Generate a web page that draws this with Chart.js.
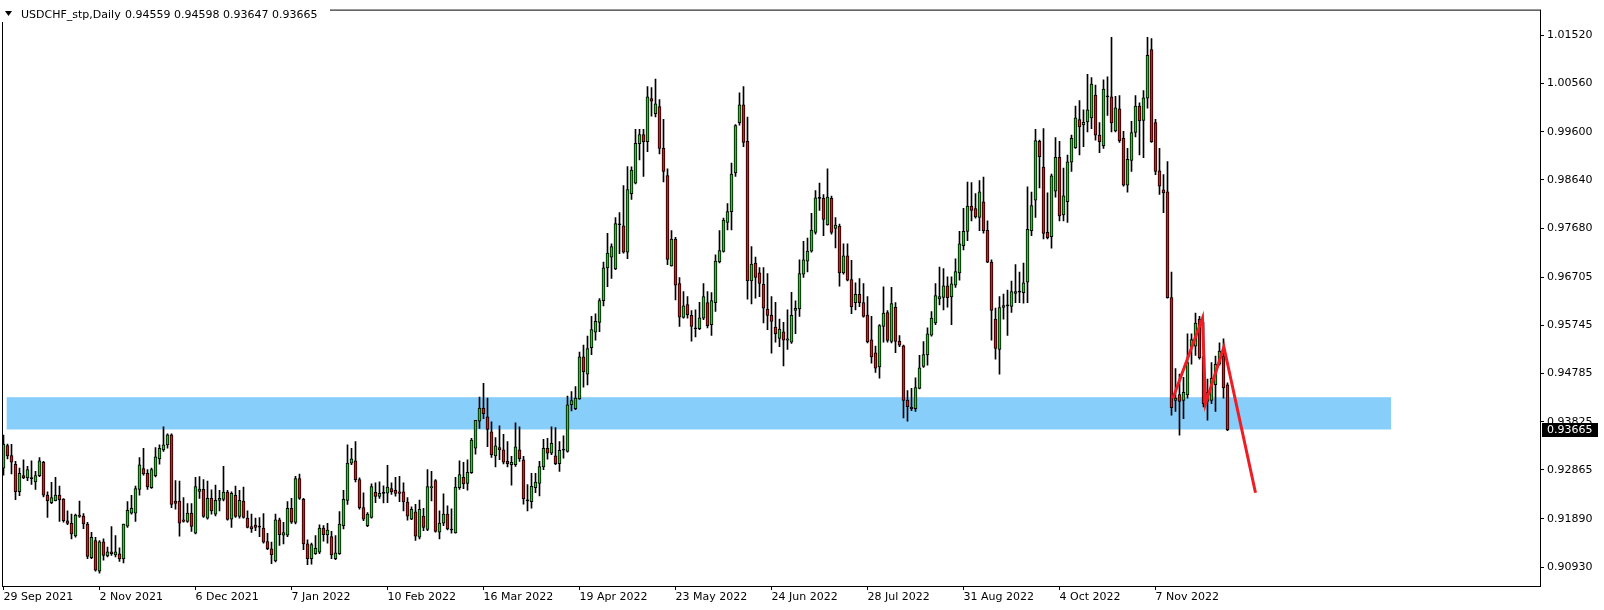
<!DOCTYPE html>
<html>
<head>
<meta charset="utf-8">
<script src="https://cdn.jsdelivr.net/npm/chart.js@4.4.1/dist/chart.umd.min.js"></script>
<style>
html, body { margin: 0; padding: 0; background: #ffffff; }
</style>
</head>
<body>
<canvas id="grafica" width="1604" height="610"></canvas>
<script>
// Velas diarias USDCHF, una por dia laborable desde el 29 Sep 2021
const opens = [
0.92903,0.93350,0.93153,0.92976,0.92431,0.92752,0.92707,0.92693,0.92628,0.92752,
0.93015,0.92365,0.92214,0.92254,0.92365,0.92287,0.91853,0.91801,0.91551,0.91965,
0.91945,0.91788,0.91118,0.91460,0.90849,0.91433,0.91151,0.91236,0.91171,0.91197,
0.91092,0.91748,0.92004,0.92004,0.92477,0.92890,0.92798,0.92510,0.92752,0.93087,
0.93264,0.93363,0.93566,0.92247,0.92247,0.91873,0.91840,0.92004,0.91604,0.92437,
0.92477,0.91906,0.92299,0.91984,0.92260,0.92280,0.92424,0.91886,0.92359,0.91938,
0.92247,0.91906,0.91735,0.91768,0.91728,0.91709,0.91440,0.91295,0.91053,0.91873,
0.91565,0.91565,0.92103,0.91820,0.92693,0.92280,0.91394,0.91098,0.91197,0.91230,
0.91709,0.91571,0.91538,0.91098,0.91197,0.91755,0.92260,0.93002,0.93048,0.92674,
0.92116,0.91755,0.91919,0.92418,0.92339,0.92398,0.92404,0.92496,0.92457,0.92431,
0.92431,0.92227,0.91886,0.92031,0.91525,0.91945,0.91683,0.92510,0.92654,0.91624,
0.91807,0.91985,0.91670,0.91611,0.92510,0.92720,0.92595,0.92812,0.93297,0.93836,
0.94098,0.93921,0.93626,0.93147,0.93311,0.93265,0.93035,0.92970,0.92970,0.93265,
0.93068,0.92248,0.92235,0.92510,0.92596,0.92924,0.93298,0.93199,0.93147,0.92989,
0.93258,0.93232,0.94164,0.94085,0.94282,0.95116,0.94774,0.95300,0.95608,0.95805,
0.96238,0.96888,0.97104,0.96868,0.97748,0.97728,0.97203,0.98365,0.98575,0.99362,
0.99546,0.99402,1.00261,0.99959,1.00104,0.99270,0.98726,0.96927,0.97465,0.96579,
0.95903,0.96159,0.95943,0.95674,0.95680,0.95890,0.96199,0.95759,0.96199,0.97006,
0.97216,0.97794,0.98010,0.98778,0.99782,1.00137,0.99408,0.96632,0.96986,0.96790,
0.96560,0.96067,0.95943,0.95712,0.95483,0.95614,0.95450,0.95410,0.96040,0.96073,
0.96762,0.97025,0.97222,0.97596,0.98272,0.98272,0.97747,0.98272,0.97675,0.97721,
0.96789,0.97130,0.96657,0.96198,0.96362,0.96198,0.95948,0.95456,0.95200,0.94918,
0.95725,0.96001,0.95423,0.96106,0.95430,0.95338,0.94255,0.94111,0.94085,0.94491,
0.94925,0.95154,0.95548,0.95791,0.96270,0.96303,0.96533,0.96310,0.96546,0.96789,
0.97334,0.97616,0.98121,0.98069,0.97892,0.98207,0.97636,0.97005,0.95870,0.95266,
0.96100,0.96133,0.96120,0.96382,0.96408,0.96395,0.96605,0.97629,0.98239,0.99408,
0.98896,0.97596,0.97511,0.98416,0.99092,0.97944,0.98207,0.98994,0.99283,0.99841,
0.99736,0.99795,0.99874,1.00333,0.99532,0.99322,1.00294,1.00294,0.99618,1.00057,
0.99467,0.98535,0.99027,0.99585,1.00110,0.99828,1.00267,1.01239,0.99782,0.98823,
0.98443,0.98403,0.96297,0.94249,0.94367,0.94249,0.94361,0.95319,0.95332,0.95870,
0.95122,0.94229,0.94249,0.94564,0.94971,0.95135,0.94559
];
const highs = [
0.93560,0.93382,0.93376,0.93035,0.92903,0.93067,0.92936,0.93048,0.92838,0.93113,
0.93035,0.92431,0.92621,0.92720,0.92542,0.92293,0.92050,0.91985,0.91985,0.92247,
0.91998,0.91821,0.91624,0.91525,0.91460,0.91492,0.91328,0.91735,0.91558,0.91315,
0.91788,0.92234,0.92359,0.92542,0.93113,0.93297,0.92871,0.92903,0.93310,0.93363,
0.93724,0.93586,0.93586,0.92654,0.92641,0.92313,0.92195,0.92195,0.92720,0.92733,
0.92674,0.92641,0.92470,0.92562,0.92457,0.92936,0.92457,0.92431,0.92542,0.92457,
0.92523,0.92050,0.91984,0.91906,0.91919,0.91998,0.91604,0.91427,0.91984,0.91906,
0.91820,0.92234,0.92299,0.92739,0.92785,0.92299,0.91473,0.91407,0.91558,0.91774,
0.91755,0.91801,0.91643,0.91558,0.92037,0.92457,0.93363,0.93297,0.93428,0.92707,
0.92411,0.92017,0.92588,0.92608,0.92628,0.92549,0.92956,0.92608,0.92720,0.92739,
0.92608,0.92313,0.92129,0.92181,0.92267,0.92103,0.92871,0.92838,0.92674,0.92050,
0.92392,0.92149,0.92090,0.92720,0.93048,0.93015,0.93067,0.93494,0.93855,0.94315,
0.94591,0.94295,0.93823,0.93508,0.93744,0.93573,0.93429,0.93134,0.93803,0.93724,
0.93134,0.92576,0.92799,0.92799,0.93035,0.93475,0.93495,0.93724,0.93711,0.93429,
0.93547,0.94335,0.94427,0.94525,0.95214,0.95352,0.95529,0.95923,0.95976,0.96277,
0.97006,0.97577,0.97367,0.97892,0.97991,0.98529,0.98909,0.98903,0.99651,0.99651,
0.99651,1.00498,1.00478,1.00648,1.00242,0.99848,0.98863,0.97630,0.97498,0.96698,
0.96415,0.96317,0.96041,0.96054,0.96205,0.96579,0.96415,0.96396,0.97150,0.97630,
0.97879,0.98168,0.98975,0.99743,1.00373,1.00498,0.99894,0.97315,0.97104,0.96894,
0.96894,0.96776,0.96317,0.96204,0.95870,0.95804,0.96054,0.96401,0.96231,0.97051,
0.97419,0.97484,0.97976,0.98429,0.98580,0.98351,0.98862,0.98318,0.97891,0.97760,
0.97366,0.97366,0.97038,0.96592,0.96677,0.96579,0.96316,0.95922,0.95332,0.95758,
0.96513,0.96040,0.96500,0.96198,0.95542,0.95351,0.94446,0.94492,0.94702,0.95148,
0.95423,0.95693,0.96021,0.96579,0.96907,0.96874,0.96710,0.96710,0.97071,0.97615,
0.98075,0.98600,0.98587,0.98371,0.98627,0.98699,0.97826,0.97051,0.96087,0.96316,
0.96369,0.96448,0.96625,0.96953,0.96808,0.96986,0.98502,0.98397,0.99650,0.99434,
0.99663,0.98384,0.98758,0.99486,0.99408,0.98876,0.99138,0.99532,1.00110,1.00221,
1.00038,1.00746,1.00681,1.00530,0.99782,1.00635,1.00694,1.01481,1.00307,1.00320,
0.99611,0.99270,0.99808,1.00320,1.00175,1.00418,1.01481,1.01455,0.99847,0.99270,
0.98745,0.99007,0.96808,0.94886,0.94774,0.94709,0.95575,0.95575,0.95988,0.95923,
0.95804,0.94676,0.95004,0.95135,0.95398,0.95476,0.94598
];
const lows = [
0.92759,0.93087,0.92785,0.92273,0.92352,0.92693,0.92654,0.92575,0.92477,0.92733,
0.92326,0.91919,0.92195,0.92247,0.91840,0.91827,0.91775,0.91492,0.91525,0.91919,
0.91696,0.91099,0.91099,0.90849,0.90810,0.91066,0.91131,0.91164,0.91131,0.91046,
0.91013,0.91722,0.91985,0.91840,0.92365,0.92759,0.92477,0.92496,0.92726,0.92982,
0.93232,0.93297,0.92116,0.92083,0.91545,0.91827,0.91821,0.91643,0.91591,0.92299,
0.91919,0.91886,0.91984,0.91952,0.92050,0.92247,0.91866,0.91722,0.91919,0.91906,
0.91906,0.91709,0.91623,0.91656,0.91538,0.91407,0.91276,0.91000,0.91033,0.91361,
0.91394,0.91538,0.91801,0.91788,0.92280,0.91276,0.90980,0.90987,0.91184,0.91197,
0.91446,0.91407,0.91098,0.91079,0.91184,0.91689,0.92181,0.92969,0.92628,0.92083,
0.91853,0.91735,0.91906,0.92214,0.92299,0.92208,0.92214,0.92378,0.92345,0.92234,
0.92050,0.91866,0.91873,0.91460,0.91492,0.91656,0.91656,0.92247,0.91624,0.91492,
0.91755,0.91670,0.91604,0.91604,0.92477,0.92490,0.92464,0.92798,0.93179,0.93692,
0.93888,0.93331,0.93114,0.92924,0.93068,0.92983,0.92924,0.92563,0.92937,0.93035,
0.92182,0.92051,0.92103,0.92412,0.92346,0.92871,0.93081,0.93167,0.92970,0.92838,
0.93101,0.93219,0.94039,0.94066,0.94269,0.94512,0.94558,0.95162,0.95451,0.95621,
0.96133,0.96514,0.96678,0.96855,0.97170,0.97183,0.97072,0.98253,0.98561,0.99041,
0.98712,0.99205,0.99913,0.99894,0.99159,0.98601,0.96953,0.96921,0.96251,0.95726,
0.95890,0.95890,0.95431,0.95516,0.95661,0.95857,0.95693,0.95543,0.96022,0.96986,
0.97203,0.97643,0.97643,0.98712,0.99730,0.99303,0.96264,0.96172,0.96284,0.96317,
0.95792,0.95661,0.95190,0.95410,0.95318,0.94938,0.95266,0.95384,0.95581,0.95922,
0.96697,0.96808,0.97202,0.97563,0.98036,0.97530,0.97740,0.97563,0.97287,0.96526,
0.96762,0.96631,0.95975,0.96054,0.96119,0.95909,0.95397,0.94990,0.94807,0.94695,
0.95410,0.95410,0.95397,0.95200,0.95318,0.93901,0.93835,0.94045,0.94032,0.94478,
0.94905,0.94951,0.95528,0.95758,0.96152,0.96053,0.96106,0.95758,0.96500,0.96644,
0.97248,0.97432,0.97826,0.97878,0.97629,0.97583,0.96992,0.95450,0.95069,0.94774,
0.95870,0.95542,0.96001,0.96198,0.96198,0.96185,0.96198,0.97531,0.97892,0.98482,
0.97465,0.97465,0.97281,0.98298,0.97826,0.97826,0.97793,0.98810,0.99270,0.99138,
0.99303,0.99598,0.99663,0.99434,0.99184,0.99270,0.99926,0.99598,0.99598,0.99388,
0.98515,0.98397,0.98810,0.99499,0.99138,0.99086,1.00070,0.99388,0.98745,0.98351,
0.97990,0.96284,0.93954,0.94032,0.93560,0.93888,0.94295,0.94971,0.95148,0.95069,
0.94118,0.93855,0.94183,0.94032,0.94951,0.94295,0.93647
];
const closes = [
0.93382,0.93146,0.93022,0.92431,0.92798,0.92707,0.92871,0.92693,0.92752,0.93048,
0.92365,0.92254,0.92313,0.92365,0.92273,0.91853,0.91801,0.91591,0.91965,0.91939,
0.91788,0.91145,0.91525,0.90869,0.91433,0.91164,0.91236,0.91197,0.91236,0.91092,
0.91788,0.92063,0.92103,0.92496,0.92969,0.92785,0.92529,0.92871,0.93127,0.93297,
0.93363,0.93566,0.92181,0.92201,0.91807,0.91840,0.92004,0.91742,0.92536,0.92483,
0.91938,0.92299,0.92050,0.92260,0.92299,0.92424,0.91879,0.92398,0.91938,0.92260,
0.91919,0.91722,0.91689,0.91722,0.91728,0.91427,0.91295,0.91177,0.91873,0.91578,
0.91617,0.92103,0.91827,0.92693,0.92299,0.91394,0.91098,0.91381,0.91302,0.91709,
0.91578,0.91669,0.91171,0.91217,0.91788,0.92280,0.93002,0.93087,0.92674,0.92116,
0.91886,0.91984,0.92536,0.92339,0.92398,0.92398,0.92523,0.92431,0.92398,0.92398,
0.92227,0.91945,0.92083,0.91545,0.92083,0.91722,0.92536,0.92536,0.91643,0.91807,
0.91985,0.91689,0.91670,0.92523,0.92772,0.92588,0.92818,0.93461,0.93855,0.94098,
0.93987,0.93672,0.93167,0.93344,0.93265,0.93022,0.92989,0.93015,0.93324,0.93088,
0.92294,0.92248,0.92537,0.92622,0.92930,0.93298,0.93199,0.93396,0.92989,0.93258,
0.93258,0.94164,0.94249,0.94295,0.95116,0.94820,0.95280,0.95661,0.95825,0.96238,
0.96888,0.97183,0.97315,0.97774,0.97748,0.97203,0.98450,0.98837,0.99369,0.99546,
0.99402,1.00294,1.00209,1.00156,0.99270,0.98811,0.97058,0.97465,0.96547,0.95910,
0.96133,0.95956,0.95726,0.95674,0.95897,0.96317,0.95739,0.96238,0.97026,0.97236,
0.97840,0.98010,0.98758,0.99723,1.00137,0.99388,0.96632,0.96967,0.96698,0.96579,
0.96087,0.95943,0.95825,0.95581,0.95673,0.95450,0.95476,0.95942,0.96086,0.96775,
0.97051,0.97222,0.97642,0.98285,0.98272,0.97852,0.98298,0.97596,0.97740,0.96789,
0.97130,0.96644,0.96119,0.96362,0.96198,0.95922,0.95417,0.95115,0.94892,0.95739,
0.95988,0.95443,0.96178,0.95423,0.95351,0.94249,0.94124,0.94085,0.94505,0.94898,
0.95161,0.95574,0.95889,0.96336,0.96316,0.96533,0.96296,0.96572,0.96815,0.97366,
0.97616,0.98121,0.98036,0.97905,0.98403,0.97629,0.97005,0.96041,0.95286,0.96100,
0.96139,0.96133,0.96415,0.96415,0.96408,0.96592,0.97655,0.98128,0.99427,0.99106,
0.97576,0.97491,0.98725,0.99092,0.97924,0.98325,0.99001,0.99467,0.99880,0.99696,
0.99788,1.00038,1.00549,0.99532,0.99401,1.00451,1.00294,0.99775,1.00077,0.99421,
0.98535,0.99053,0.99585,1.00110,0.99814,1.00274,1.01120,0.99401,0.98810,0.98515,
0.98384,0.96297,0.94105,0.94295,0.94229,0.94413,0.95004,0.95463,0.95791,0.95102,
0.94183,0.94413,0.94689,0.94971,0.95233,0.94498,0.93665
];

// Etiquetas del eje de tiempo (cada 24 velas) y del eje de precios
const tickBars = [0, 24, 48, 72, 96, 120, 144, 168, 192, 216, 240, 264, 288];
const tickDates = ['29 Sep 2021', '2 Nov 2021', '6 Dec 2021', '7 Jan 2022', '10 Feb 2022', '16 Mar 2022',
    '19 Apr 2022', '23 May 2022', '24 Jun 2022', '28 Jul 2022', '31 Aug 2022', '4 Oct 2022', '7 Nov 2022'];
const priceTicks = [1.01520, 1.00560, 0.99600, 0.98640, 0.97680, 0.96705, 0.95745, 0.94785, 0.93825, 0.92865, 0.91890, 0.90930];

// Zona azul (rectangulo) y lineas rojas dibujadas a mano
const zoneBars = [0.8, 346.9];
const zonePrices = [0.93671, 0.94314];
const trendBars = [292.35, 299.75, 300.5, 305.1, 313];
const trendPrices = [0.94295, 0.95890, 0.94183, 0.95313, 0.92410];

const symbolName = 'USDCHF_stp,Daily';
const lastOhlc = [0.94559, 0.94598, 0.93647, 0.93665];

const fuente = { family: 'DejaVu Sans', size: 11 };
const indices = opens.map((v, i) => i);

const colores = indices.map(function (i) {
    if (closes[i] > opens[i]) return '#20d020';
    if (closes[i] < opens[i]) return '#f01010';
    return '#000000';
});

// Dibuja la zona azul por debajo de las velas
const zona = {
    id: 'zona',
    beforeDatasetsDraw(chart) {
        const { ctx, scales: { x, y }, chartArea } = chart;
        const x0 = x.getPixelForValue(zoneBars[0]);
        const x1 = x.getPixelForValue(zoneBars[1]);
        const y0 = y.getPixelForValue(zonePrices[1]);
        const y1 = y.getPixelForValue(zonePrices[0]);
        ctx.save();
        ctx.beginPath();
        ctx.rect(chartArea.left, chartArea.top, chartArea.width, chartArea.height);
        ctx.clip();
        ctx.fillStyle = '#87cefa';
        ctx.fillRect(x0, y0, x1 - x0, y1 - y0);
        ctx.restore();
    }
};

// Marco, cabecera y etiqueta del ultimo precio
const marco = {
    id: 'marco',
    afterDraw(chart) {
        const { ctx, scales: { y }, chartArea } = chart;
        ctx.save();
        ctx.strokeStyle = '#000000';
        ctx.lineWidth = 1;
        ctx.strokeRect(chartArea.left + 0.5, chartArea.top + 0.5,
            chartArea.right - chartArea.left, chartArea.bottom - chartArea.top);

        ctx.fillStyle = '#ffffff';
        ctx.fillRect(0, 0, 330, 22);
        ctx.fillStyle = '#000000';
        ctx.beginPath();
        ctx.moveTo(5, 11);
        ctx.lineTo(12, 11);
        ctx.lineTo(8.5, 16);
        ctx.closePath();
        ctx.fill();
        ctx.font = '11px "DejaVu Sans"';
        ctx.textBaseline = 'alphabetic';
        ctx.fillText(symbolName, 21, 18);
        ctx.fillText(lastOhlc.map(v => v.toFixed(5)).join(' '), 125, 18);

        const py = Math.round(y.getPixelForValue(lastOhlc[3]));
        ctx.fillRect(chartArea.right + 2, py - 7, 56, 14);
        ctx.fillStyle = '#ffffff';
        ctx.textBaseline = 'middle';
        ctx.fillText(lastOhlc[3].toFixed(5), chartArea.right + 7, py + 0.5);
        ctx.restore();
    }
};

new Chart(document.getElementById('grafica'), {
    type: 'bar',
    data: {
        datasets: [
            {
                type: 'line',
                data: trendBars.map((b, k) => ({ x: b, y: trendPrices[k] })),
                borderColor: '#ee1c24',
                borderWidth: 3,
                pointRadius: 0,
                fill: false,
                order: 0,
            },
            {
                data: indices.map(i => ({ x: i, y: [opens[i], closes[i]] })),
                backgroundColor: colores,
                borderColor: '#000000',
                borderWidth: 1,
                borderSkipped: false,
                barThickness: 3,
                minBarLength: 1,
                grouped: false,
                order: 1,
            },
            {
                data: indices.map(i => ({ x: i, y: [lows[i], highs[i]] })),
                backgroundColor: '#000000',
                borderWidth: 0,
                barThickness: 1,
                grouped: false,
                order: 2,
            },
        ],
    },
    options: {
        responsive: false,
        devicePixelRatio: 1,
        animation: false,
        layout: {
            autoPadding: false,
            padding: { left: 2, top: 3, right: 0, bottom: 0 },
        },
        plugins: {
            legend: { display: false },
            tooltip: { enabled: false },
        },
        scales: {
            x: {
                type: 'linear',
                position: 'bottom',
                offset: false,
                min: -0.375,
                max: 384.125,
                afterFit: function (scale) { scale.height = 24; },
                afterBuildTicks: function (scale) {
                    scale.ticks = tickBars.map(v => ({ value: v }));
                },
                ticks: {
                    autoSkip: false,
                    maxRotation: 0,
                    align: 'start',
                    padding: 1,
                    color: '#000000',
                    font: fuente,
                    callback: function (value) {
                        return tickDates[tickBars.indexOf(value)];
                    },
                },
                grid: {
                    offset: false,
                    drawOnChartArea: false,
                    drawTicks: true,
                    tickLength: 4,
                    color: '#000000',
                },
                border: { display: false },
            },
            y: {
                type: 'linear',
                position: 'right',
                min: 0.90554,
                max: 1.02033,
                afterFit: function (scale) { scale.width = 64; },
                afterBuildTicks: function (scale) {
                    scale.ticks = priceTicks.map(v => ({ value: v }));
                },
                ticks: {
                    padding: 3,
                    color: '#000000',
                    font: fuente,
                    callback: function (value) {
                        return value.toFixed(5);
                    },
                },
                grid: {
                    drawOnChartArea: false,
                    drawTicks: true,
                    tickLength: 4,
                    color: '#000000',
                },
                border: { display: false },
            },
        },
    },
    plugins: [zona, marco],
});
</script>
</body>
</html>
